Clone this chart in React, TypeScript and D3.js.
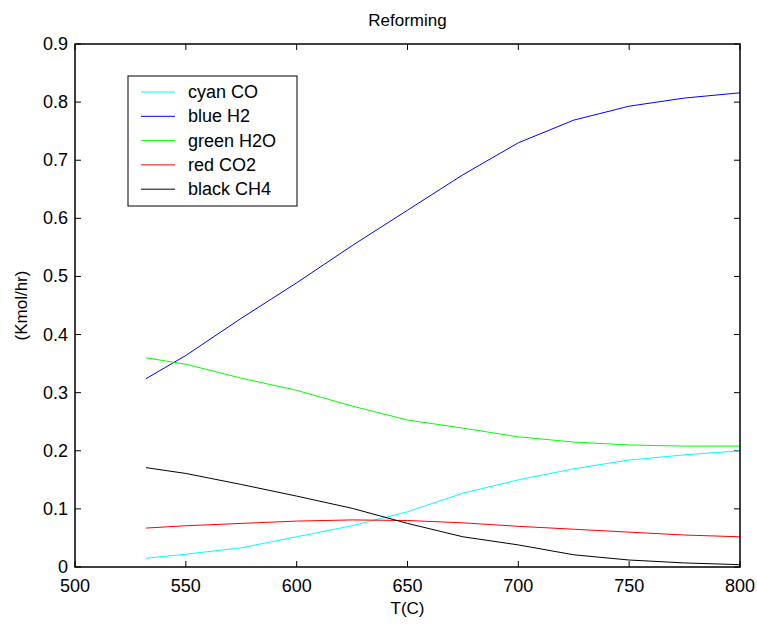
import React, { useEffect, useRef } from 'react';
import * as d3 from 'd3';

// temperature samples (C)
const temps = [532, 550, 575, 600, 625, 650, 675, 700, 725, 750, 775, 800];

// flow rates in Kmol/hr
const coFlow = [0.015, 0.022, 0.033, 0.052, 0.071, 0.095, 0.127, 0.150, 0.169, 0.184, 0.193, 0.200];
const h2Flow = [0.324, 0.364, 0.428, 0.489, 0.553, 0.614, 0.675, 0.730, 0.769, 0.793, 0.807, 0.816];
const h2oFlow = [0.360, 0.349, 0.325, 0.304, 0.277, 0.253, 0.239, 0.224, 0.215, 0.210, 0.208, 0.208];
const co2Flow = [0.067, 0.071, 0.075, 0.079, 0.081, 0.080, 0.076, 0.070, 0.065, 0.060, 0.055, 0.052];
const ch4Flow = [0.171, 0.161, 0.142, 0.122, 0.101, 0.075, 0.052, 0.038, 0.021, 0.012, 0.007, 0.004];

const legendLabels = ['cyan CO', 'blue H2', 'green H2O', 'red CO2', 'black CH4'];
const colors = ['#00ffff', '#0000ff', '#00ff00', '#ff0000', '#000000'];
const allSeries = [coFlow, h2Flow, h2oFlow, co2Flow, ch4Flow];

const xTicks = [500, 550, 600, 650, 700, 750, 800];
const yTicks = [0, 0.1, 0.2, 0.3, 0.4, 0.5, 0.6, 0.7, 0.8, 0.9];

const App = () => {
  const svgRef = useRef(null);

  useEffect(() => {
    d3.select(svgRef.current).selectAll('*').remove();

    const W = 757, H = 624;
    const margin = { top: 44, right: 17, bottom: 57, left: 75 };
    const width = W - margin.left - margin.right;
    const height = H - margin.top - margin.bottom;
    const font = 'Liberation Sans, Arial, sans-serif';

    const svg = d3.select(svgRef.current)
      .attr('width', W)
      .attr('height', H)
      .append('g')
      .attr('transform', `translate(${margin.left},${margin.top})`);

    const xScale = d3.scaleLinear().domain([500, 800]).range([0, width]);
    const yScale = d3.scaleLinear().domain([0, 0.9]).range([height, 0]);

    // title
    svg.append('text')
      .attr('x', width / 2)
      .attr('y', -18)
      .attr('text-anchor', 'middle')
      .style('font-family', font)
      .style('font-size', '17px')
      .text('Reforming');

    // ticks on all four sides, pointing inward
    const tickLen = 6;
    xTicks.forEach(t => {
      svg.append('line').attr('x1', xScale(t)).attr('x2', xScale(t))
        .attr('y1', height).attr('y2', height - tickLen).attr('stroke', '#000');
      svg.append('line').attr('x1', xScale(t)).attr('x2', xScale(t))
        .attr('y1', 0).attr('y2', tickLen).attr('stroke', '#000');
      svg.append('text')
        .attr('x', xScale(t))
        .attr('y', height + 25)
        .attr('text-anchor', 'middle')
        .style('font-family', font)
        .style('font-size', '18px')
        .text(t);
    });
    yTicks.forEach(t => {
      svg.append('line').attr('x1', 0).attr('x2', tickLen)
        .attr('y1', yScale(t)).attr('y2', yScale(t)).attr('stroke', '#000');
      svg.append('line').attr('x1', width).attr('x2', width - tickLen)
        .attr('y1', yScale(t)).attr('y2', yScale(t)).attr('stroke', '#000');
      svg.append('text')
        .attr('x', -7)
        .attr('y', yScale(t) + 6)
        .attr('text-anchor', 'end')
        .style('font-family', font)
        .style('font-size', '18px')
        .text(t === 0 ? '0' : d3.format('.1f')(t));
    });

    // axis labels
    svg.append('text')
      .attr('x', width / 2)
      .attr('y', height + 47)
      .attr('text-anchor', 'middle')
      .style('font-family', font)
      .style('font-size', '17px')
      .text('T(C)');

    svg.append('text')
      .attr('transform', 'rotate(-90)')
      .attr('x', -(height / 2))
      .attr('y', -48)
      .attr('text-anchor', 'middle')
      .style('font-family', font)
      .style('font-size', '17px')
      .text('(Kmol/hr)');

    // data lines
    allSeries.forEach((vals, i) => {
      const line = d3.line()
        .x((d, j) => xScale(temps[j]))
        .y(d => yScale(d));
      svg.append('path')
        .datum(vals)
        .attr('fill', 'none')
        .attr('stroke', colors[i])
        .attr('stroke-width', 1)
        .attr('d', line);
    });

    // frame
    svg.append('rect')
      .attr('x', 0).attr('y', 0)
      .attr('width', width).attr('height', height)
      .attr('fill', 'none')
      .attr('stroke', '#000')
      .attr('stroke-width', 1.5);

    // legend
    const legend = svg.append('g')
      .attr('transform', `translate(${128 - margin.left},${76 - margin.top})`);

    legend.append('rect')
      .attr('width', 169).attr('height', 130)
      .attr('fill', '#fff')
      .attr('stroke', '#000')
      .attr('stroke-width', 1);

    legendLabels.forEach((lab, i) => {
      const ly = 16 + i * 24.3;
      legend.append('line')
        .attr('x1', 13).attr('x2', 47)
        .attr('y1', ly).attr('y2', ly)
        .attr('stroke', colors[i]);
      legend.append('text')
        .attr('x', 60)
        .attr('y', ly + 6)
        .style('font-family', font)
        .style('font-size', '18px')
        .text(lab);
    });
  }, []);

  return (
    <div style={{ position: 'absolute', left: 0, top: 0 }}>
      <svg ref={svgRef} style={{ display: 'block' }}></svg>
    </div>
  );
};

export default App;
